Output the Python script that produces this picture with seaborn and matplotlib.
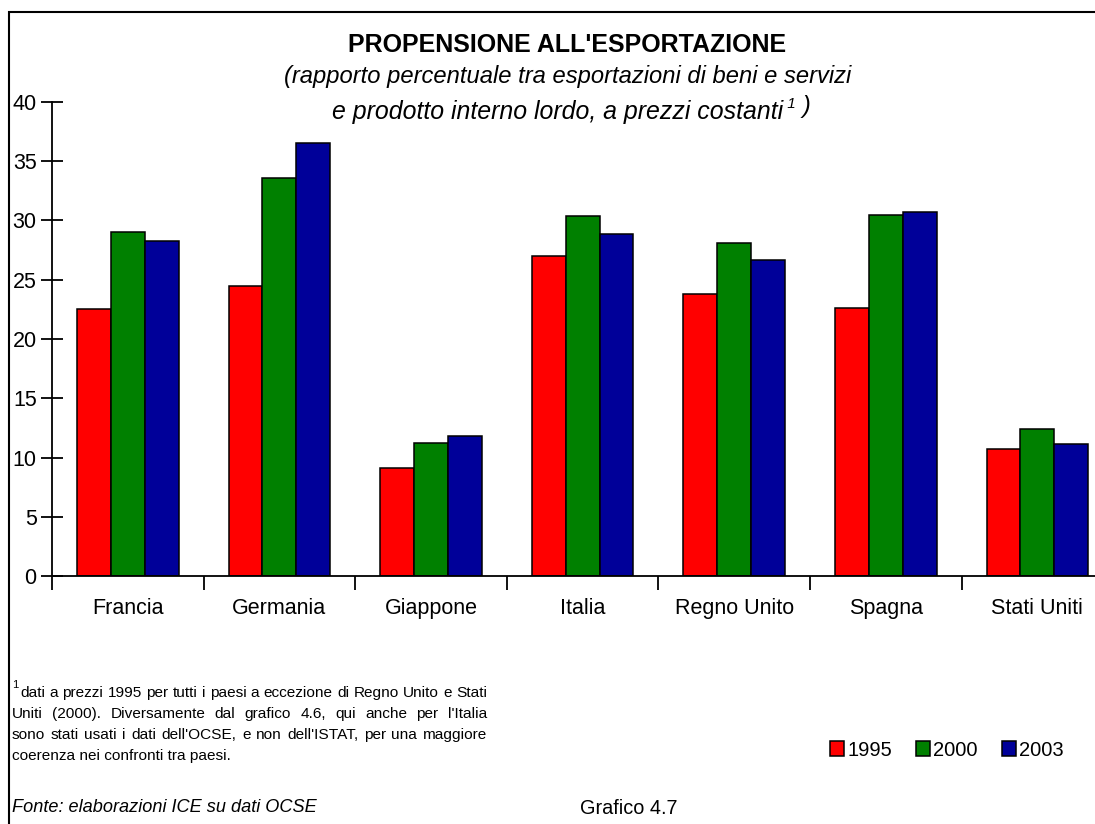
import pandas as pd
import matplotlib
matplotlib.use('Agg')
import matplotlib.pyplot as plt
import seaborn as sns
from matplotlib.patches import Rectangle
from matplotlib.text import Annotation

# dati
paesi = ['Francia', 'Germania', 'Giappone', 'Italia', 'Regno Unito', 'Spagna', 'Stati Uniti']
anni = ['1995', '2000', '2003']
val_1995 = [22.5, 24.5, 9.1, 27.0, 23.8, 22.6, 10.7]
val_2000 = [29.0, 33.6, 11.2, 30.4, 28.1, 30.5, 12.4]
val_2003 = [28.3, 36.5, 11.8, 28.9, 26.7, 30.7, 11.1]
colori = ['#FF0000', '#008000', '#000099']

df = pd.DataFrame({
    'Paese': paesi * 3,
    'Anno': [a for a in anni for _ in paesi],
    'Valore': val_1995 + val_2000 + val_2003,
})

sns.set_style('white')
plt.rcParams['font.family'] = ['Liberation Sans', 'DejaVu Sans']
plt.rcParams['text.color'] = 'black'
plt.rcParams['xtick.color'] = 'black'
plt.rcParams['ytick.color'] = 'black'

fig = plt.figure(figsize=(10.95, 8.24), dpi=100)
W, H = 1095, 824
ax = fig.add_axes([52 / W, 248 / H, 7 * 151.6 / W, 474 / H])

sns.barplot(data=df, x='Paese', y='Valore', hue='Anno', order=paesi, hue_order=anni,
            palette=colori, width=0.67, edgecolor='black', linewidth=1.1,
            saturation=1, ax=ax, legend=True)

ax.set_xlim(-0.5, 6.5)
ax.set_ylim(0, 40)
ax.set_yticks(range(0, 41, 5))
ax.set_xlabel('')
ax.set_ylabel('')
sns.despine(ax=ax)
ax.spines['left'].set_linewidth(1.3)
ax.spines['bottom'].set_linewidth(1.3)
ax.spines['left'].set_color('black')
ax.spines['bottom'].set_color('black')
ax.tick_params(axis='y', direction='inout', length=16, width=1.3, labelsize=15.5, pad=3, left=True)
ax.tick_params(axis='x', which='major', length=0, labelsize=15.5, pad=16)
ax.set_xticks([i - 0.5 for i in range(8)], minor=True)
ax.tick_params(axis='x', which='minor', direction='out', length=10, width=1.3, bottom=True)

# legenda
handles, labels = ax.get_legend_handles_labels()
ax.get_legend().remove()
fig.legend(handles, labels, loc='center', bbox_to_anchor=(947 / W, 1 - 750 / H), ncol=3,
           frameon=False, fontsize=14.5, handlelength=0.7, handleheight=0.7,
           handletextpad=0.15, columnspacing=1.2)

# titoli
fig.text(567 / W, 1 - 45 / H, "PROPENSIONE ALL'ESPORTAZIONE", ha='center', va='center',
         fontsize=18, fontweight='bold')
fig.text(568 / W, 1 - 77 / H, '(rapporto percentuale tra esportazioni di beni e servizi',
         ha='center', va='center', fontsize=17.1, style='italic')
riga2 = fig.text(783 / W, 1 - 112 / H, 'e prodotto interno lordo, a prezzi costanti',
                 ha='right', va='center', fontsize=17.9, style='italic')
sup = fig.add_artist(Annotation(' 1', xy=(1, 0.55), xycoords=riga2,
                                fontsize=11, style='italic', va='bottom', ha='left'))
fig.add_artist(Annotation(' )', xy=(1, 0), xycoords=sup, xytext=(0, -5),
                          textcoords='offset points', fontsize=17.5,
                          style='italic', va='bottom', ha='left'))

# nota (giustificata)
renderer = fig.canvas.get_renderer()


def riga_giustificata(testo, x0, x1, y, fs, giustifica=True):
    if not giustifica:
        fig.text(x0 / W, 1 - y / H, testo, fontsize=fs, ha='left', va='baseline')
        return
    parole = testo.split()
    oggetti = [fig.text(0, 1 - y / H, p, fontsize=fs, ha='left', va='baseline') for p in parole]
    larghezze = [o.get_window_extent(renderer).width for o in oggetti]
    spazio = (x1 - x0 - sum(larghezze)) / (len(parole) - 1)
    x = x0
    for o, w in zip(oggetti, larghezze):
        o.set_x(x / W)
        x += w + spazio


fig.text(12 / W, 1 - 685 / H, '1', fontsize=8, ha='left', va='center')
note = ['dati a prezzi 1995 per tutti i paesi a eccezione di Regno Unito e Stati',
        "Uniti (2000).  Diversamente dal grafico 4.6, qui anche per l'Italia",
        "sono stati usati i dati dell'OCSE, e non dell'ISTAT, per una maggiore",
        'coerenza nei confronti tra paesi.']
riga_giustificata(note[0], 20, 487, 697, 11.1)
riga_giustificata(note[1], 12, 487, 718, 11.1)
riga_giustificata(note[2], 12, 487, 739, 11.1)
riga_giustificata(note[3], 12, 487, 760, 11.1, giustifica=False)

fig.text(12 / W, 1 - 808 / H, 'Fonte: elaborazioni ICE su dati OCSE', fontsize=13.1,
         style='italic', ha='left', va='center')
fig.text(580 / W, 1 - 808 / H, 'Grafico 4.7', fontsize=14.3, ha='left', va='center')

# cornice
fig.add_artist(Rectangle((9 / W, -0.1), 1.2, 1.1 - 12 / H, transform=fig.transFigure,
                         fill=False, edgecolor='black', linewidth=1.5))

fig.savefig('out.png', dpi=100)
